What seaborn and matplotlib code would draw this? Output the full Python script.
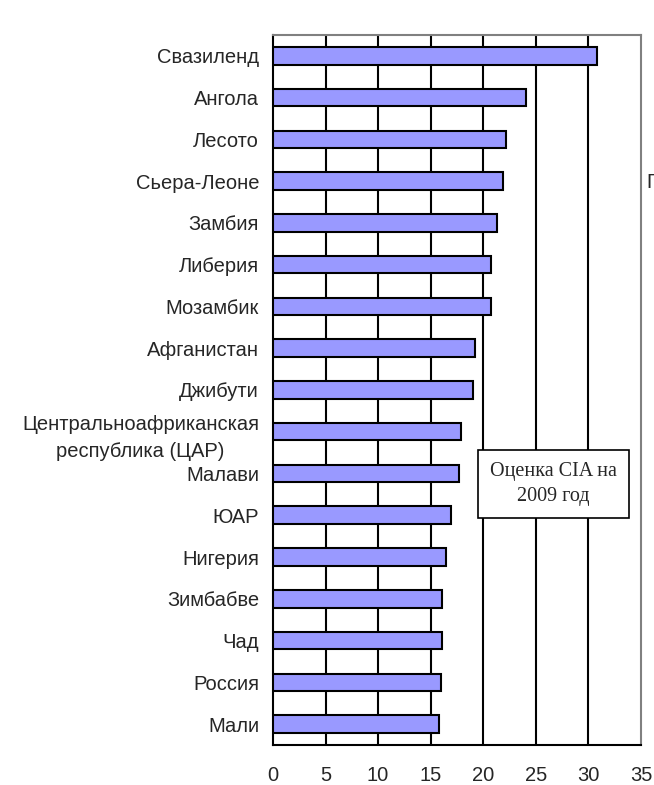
import matplotlib
matplotlib.use("Agg")
import matplotlib.pyplot as plt
import seaborn as sns
import numpy as np
import pandas as pd

# death rate per 1000, CIA estimate 2009
countries = ["Свазиленд", "Ангола", "Лесото", "Сьера-Леоне", "Замбия", "Либерия",
             "Мозамбик", "Афганистан", "Джибути",
             "Центральноафриканская\nреспублика (ЦАР)", "Малави", "ЮАР",
             "Нигерия", "Зимбабве", "Чад", "Россия", "Мали"]
rates = [30.8, 24.1, 22.2, 21.9, 21.3, 20.7, 20.7, 19.2, 19.0,
         17.9, 17.7, 16.9, 16.5, 16.1, 16.1, 16.0, 15.8]
xticks = [0, 5, 10, 15, 20, 25, 30, 35]

sns.set_style("white")
plt.rcParams['font.family'] = ['Liberation Sans', 'DejaVu Sans']

df = pd.DataFrame({"country": countries, "rate": rates})

fig = plt.figure(figsize=(6.54, 7.85), dpi=100)
ax = fig.add_axes([0.4174, 0.0510, 0.5627, 0.9045])

sns.barplot(data=df, x="rate", y="country", orient="h", color="#9999FF",
            saturation=1, width=0.42, edgecolor="black", linewidth=1.5, ax=ax, zorder=3)

ax.set_xlim(0, 35)
ax.set_ylim(len(countries) - 0.5, -0.5)
ax.set_xticks(xticks)
ax.set_xticklabels([str(t) for t in xticks], fontsize=14.5)
ax.set_xlabel("")
ax.set_ylabel("")

# vertical grid lines
for t in xticks[1:-1]:
    ax.axvline(t, color="black", lw=1.5, zorder=1)

# y ticks: labels at centres, marks at category boundaries
ax.set_yticks(np.arange(len(countries)))
ax.set_yticklabels(countries, fontsize=14.5)
for lab in ax.get_yticklabels():
    lab.set_multialignment("center")
    if "\n" in lab.get_text():
        lab.set_linespacing(1.55)
ax.tick_params(axis="y", which="major", length=0, pad=10)
ax.set_yticks(np.arange(len(countries) + 1) - 0.5, minor=True)
ax.tick_params(axis="y", which="minor", length=5, width=1.5, color="black", direction="out")
ax.tick_params(axis="x", which="major", length=6, width=1.5, color="black", direction="out", pad=9)

for side in ["left", "bottom"]:
    ax.spines[side].set_color("black")
    ax.spines[side].set_linewidth(1.5)
for side in ["top", "right"]:
    ax.spines[side].set_color("#808080")
    ax.spines[side].set_linewidth(1.5)

ax.text(0.761, 0.3676, "Оценка CIA на\n2009 год", transform=ax.transAxes,
        ha="center", va="center", fontsize=14.5, family="Liberation Serif",
        linespacing=1.45, zorder=5,
        bbox=dict(boxstyle="square,pad=0.6", facecolor="white", edgecolor="black", lw=1.2))

# cut-off legend text at right edge
fig.text(0.989, 0.768, "Г", fontsize=14.5, ha="left", va="center")

fig.savefig("out.png", dpi=100)
